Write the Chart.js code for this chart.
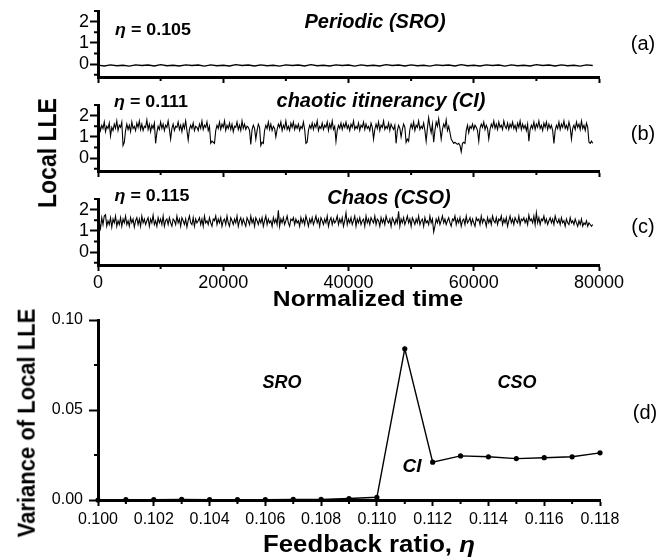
<!DOCTYPE html>
<html lang="en">
<head>
<meta charset="UTF-8">
<title>Local LLE time series and variance vs feedback ratio</title>
<script src="https://cdn.jsdelivr.net/npm/chart.js@4.4.1/dist/chart.umd.min.js"></script>
<style>
  body { margin: 0; background: #fff; }
  #wrap { position: relative; width: 670px; height: 558px; overflow: hidden;
          font-family: Arial, "Liberation Sans", Helvetica, sans-serif; color: #000; }
  canvas { position: absolute; left: 0; }
  .lbl { position: absolute; white-space: nowrap; line-height: 1;
         transform: translate(-50%, -50%); }
  .b { font-weight: bold; }
  .bi { font-weight: bold; font-style: italic; }
  .wide { transform: translate(-50%, -50%) scaleX(1.12); }
  .eta { transform: translate(-50%, -50%) scaleX(1.05); }
  .rot { transform: translate(-50%, -50%) scaleX(1.1) rotate(-90deg); }
</style>
</head>
<body>
<div id="wrap">
  <canvas id="panelA" width="670" height="90" style="top:0"></canvas>
  <canvas id="panelB" width="670" height="90" style="top:94px"></canvas>
  <canvas id="panelC" width="670" height="112" style="top:188px"></canvas>
  <canvas id="panelD" width="670" height="258" style="top:300px"></canvas>

  <div class="lbl b eta" style="left:153px;top:29px;font-size:17px"><i>η</i> = 0.105</div>
  <div class="lbl bi" style="left:375px;top:21px;font-size:20px">Periodic (SRO)</div>
  <div class="lbl" style="left:643px;top:43px;font-size:20px">(a)</div>

  <div class="lbl b eta" style="left:151px;top:101px;font-size:17px"><i>η</i> = 0.111</div>
  <div class="lbl bi" style="left:381px;top:100px;font-size:20px">chaotic itinerancy (CI)</div>
  <div class="lbl" style="left:643px;top:133px;font-size:20px">(b)</div>

  <div class="lbl b eta" style="left:152px;top:195px;font-size:17px"><i>η</i> = 0.115</div>
  <div class="lbl bi" style="left:389px;top:197px;font-size:20px">Chaos (CSO)</div>
  <div class="lbl" style="left:643px;top:226px;font-size:20px">(c)</div>

  <div class="lbl b wide" style="left:368px;top:299px;font-size:22px">Normalized time</div>
  <div class="lbl b rot" style="left:48px;top:153px;font-size:23px">Local LLE</div>

  <div class="lbl bi" style="left:282px;top:382px;font-size:18px">SRO</div>
  <div class="lbl bi" style="left:517px;top:382px;font-size:18px">CSO</div>
  <div class="lbl bi" style="left:412px;top:465px;font-size:19px">CI</div>
  <div class="lbl" style="left:645px;top:412px;font-size:20px">(d)</div>
  <div class="lbl b rot" style="left:27px;top:423px;font-size:22px">Variance of Local LLE</div>
  <div class="lbl b wide" style="left:369px;top:544px;font-size:23px">Feedback ratio, <i>η</i></div>
</div>

<script>
// sampling interval (normalized time) of the stored traces
const periodicStep = 1000;
const timeStep = 200;

// local LLE, eta = 0.105 (periodic, SRO)
const lleSRO = [
  -0.04, -0.08, -0.03, -0.07, -0.05, -0.09, -0.03, -0.06, -0.04, -0.08,
  -0.02, -0.07, -0.05, -0.08, -0.03, -0.06, -0.04, -0.09, -0.03, -0.07,
  -0.05, -0.08, -0.02, -0.06, -0.04, -0.08, -0.03, -0.07, -0.05, -0.09,
  -0.03, -0.06, -0.04, -0.08, -0.02, -0.07, -0.05, -0.08, -0.03, -0.06,
  -0.04, -0.09, -0.03, -0.07, -0.05, -0.08, -0.02, -0.06, -0.04, -0.08,
  -0.03, -0.07, -0.05, -0.09, -0.03, -0.06, -0.04, -0.08, -0.02, -0.07,
  -0.05, -0.08, -0.03, -0.06, -0.04, -0.09, -0.03, -0.07, -0.05, -0.08,
  -0.02, -0.06, -0.04, -0.08, -0.03, -0.07, -0.05, -0.09, -0.03, -0.06
];

// local LLE, eta = 0.111 (chaotic itinerancy)
const lleCI = [
  1.35, 1.60, 1.30, 1.55, 1.40, 1.70, 1.25, 1.50, 1.40, 1.65, 1.05, 1.45, 1.30, 1.60, 1.40, 1.75, 1.30, 1.55, 1.45, 1.70,
  0.60, 0.75, 1.30, 1.60, 1.35, 1.55, 1.25, 1.70, 1.40, 1.50, 1.30, 1.65, 1.45, 1.75, 1.35, 1.60, 1.30, 1.50, 1.45, 1.80,
  1.35, 1.60, 1.25, 1.55, 1.40, 1.65, 0.70, 1.20, 1.50, 1.35, 1.70, 1.40, 1.60, 1.30, 1.55, 1.45, 1.75, 1.35, 0.90, 1.40,
  1.60, 1.30, 1.50, 1.45, 1.70, 1.35, 1.55, 1.25, 1.60, 1.40, 1.75, 1.30, 0.85, 1.35, 1.55, 1.40, 1.65, 1.30, 1.50, 1.45,
  1.30, 1.60, 1.40, 1.75, 1.35, 1.55, 1.45, 1.70, 1.30, 1.50, 0.70, 0.80, 0.75, 0.70, 1.30, 1.55, 1.40, 1.70, 1.35, 1.60,
  1.45, 1.75, 1.30, 1.55, 1.40, 1.65, 1.35, 1.60, 1.25, 1.50, 1.45, 1.70, 1.35, 1.55, 1.30, 1.75, 1.40, 1.60, 1.35, 1.50,
  1.45, 1.30, 0.65, 1.35, 1.55, 1.40, 0.90, 1.30, 1.60, 1.45, 0.60, 0.75, 0.70, 1.30, 1.55, 1.40, 1.70, 1.35, 1.60, 1.30,
  1.50, 1.40, 1.00, 1.35, 1.60, 1.45, 1.70, 1.30, 1.55, 1.40, 1.75, 1.35, 1.50, 1.30, 1.65, 1.45, 1.70, 1.35, 1.55, 1.40,
  1.60, 1.30, 1.50, 1.40, 1.70, 1.35, 0.70, 0.75, 1.30, 1.55, 1.40, 1.65, 1.35, 1.60, 1.45, 1.75, 1.30, 1.50, 1.40, 1.65,
  1.35, 1.55, 1.45, 1.70, 1.30, 1.60, 1.40, 1.75, 1.35, 1.50, 0.80, 1.30, 1.55, 1.40, 1.65, 1.35, 1.60, 1.45, 1.70, 1.40,
  1.55, 1.30, 1.60, 1.45, 1.75, 1.35, 1.50, 1.40, 1.65, 1.30, 1.55, 1.45, 1.70, 1.35, 1.60, 1.40, 1.50, 1.30, 1.65, 1.45,
  0.90, 1.35, 1.60, 1.40, 1.70, 1.30, 1.55, 1.45, 1.75, 1.35, 1.50, 1.40, 1.65, 1.30, 1.60, 1.45, 1.35, 1.55, 0.70, 1.30,
  1.55, 1.40, 1.00, 1.35, 1.60, 1.45, 0.75, 0.90, 0.80, 1.35, 1.60, 1.40, 1.70, 1.30, 1.55, 1.45, 1.75, 1.35, 1.50, 1.40,
  1.65, 1.30, 0.80, 1.40, 1.90, 1.50, 1.20, 1.60, 0.75, 1.30, 1.70, 1.50, 1.85, 1.40, 0.90, 1.35, 1.60, 1.45, 1.80, 1.30,
  1.50, 1.20, 0.90, 0.80, 0.70, 0.75, 0.70, 0.65, 0.70, 0.60, 0.30, 0.70, 0.75, 0.70, 1.30, 1.55, 1.20, 1.50, 1.40, 1.60,
  1.35, 1.55, 1.45, 1.30, 0.80, 1.40, 1.60, 1.45, 1.70, 1.35, 1.55, 1.40, 0.90, 1.35, 1.60, 1.45, 1.75, 1.40, 1.60, 1.35,
  1.70, 1.45, 1.55, 1.35, 1.75, 1.50, 1.40, 1.65, 1.35, 1.60, 1.45, 1.70, 1.40, 1.55, 1.30, 1.65, 1.45, 1.75, 1.35, 1.60,
  1.40, 1.55, 1.30, 1.60, 0.80, 1.35, 1.55, 1.40, 1.70, 1.35, 1.60, 1.45, 1.75, 1.40, 1.55, 1.30, 1.65, 1.45, 1.70, 1.35,
  1.60, 1.40, 1.55, 1.30, 0.70, 1.30, 1.55, 1.40, 1.70, 1.35, 1.60, 1.45, 1.75, 1.40, 1.55, 1.35, 1.70, 1.45, 0.90, 1.40,
  1.55, 1.35, 1.70, 1.45, 1.60, 1.35, 1.75, 1.40, 1.55, 1.30, 1.65, 1.45, 0.75, 0.70, 0.80, 0.70
];

// local LLE, eta = 0.115 (chaos, CSO)
const lleCSO = [
  1.56, 1.38, 1.12, 1.62, 1.30, 1.70, 1.76, 1.22, 1.48, 1.30, 1.62, 1.18, 1.56, 1.38, 1.70, 1.22, 1.48, 1.30, 1.62, 1.22,
  1.56, 1.38, 1.70, 1.30, 1.48, 1.22, 1.62, 1.38, 1.56, 1.18, 1.48, 1.62, 1.30, 1.56, 1.22, 1.70, 1.38, 1.56, 1.30, 1.48,
  1.62, 1.22, 1.56, 1.38, 1.74, 1.30, 1.48, 1.22, 1.62, 1.38, 1.56, 1.30, 1.70, 1.22, 1.48, 1.56, 1.30, 1.62, 1.38, 1.22,
  1.56, 1.48, 1.30, 1.70, 1.38, 1.56, 1.22, 1.62, 1.48, 1.30, 1.56, 1.18, 1.48, 1.70, 1.38, 1.30, 1.62, 1.22, 1.56, 1.38,
  1.48, 1.62, 1.30, 1.56, 1.22, 1.70, 1.38, 1.48, 1.30, 1.62, 1.38, 1.22, 1.56, 1.48, 1.70, 1.30, 1.56, 1.38, 1.62, 1.22,
  1.48, 1.56, 1.30, 1.70, 1.38, 1.22, 1.62, 1.48, 1.30, 1.56, 1.38, 1.70, 1.22, 1.48, 1.62, 1.30, 1.56, 1.38, 1.22, 1.62,
  1.48, 1.30, 1.70, 1.38, 1.56, 1.22, 1.62, 1.48, 1.30, 1.56, 1.38, 1.62, 1.22, 1.48, 1.70, 1.30, 1.56, 1.38, 1.48, 1.22,
  1.62, 1.38, 1.56, 1.30, 1.97, 1.22, 1.56, 1.38, 1.62, 1.30, 1.48, 1.70, 1.38, 1.22, 1.56, 1.48, 1.62, 1.30, 1.56, 1.38,
  1.48, 1.22, 1.62, 1.38, 1.56, 1.30, 1.70, 1.48, 1.22, 1.56, 1.38, 1.62, 1.30, 1.48, 1.70, 1.38, 1.56, 1.22, 1.62, 1.48,
  1.30, 1.56, 1.38, 1.70, 1.22, 1.48, 1.62, 1.30, 1.56, 1.38, 1.48, 1.70, 1.30, 1.56, 1.38, 1.62, 1.22, 1.48, 1.85, 1.30,
  1.56, 1.38, 1.62, 1.30, 1.48, 1.70, 1.22, 1.56, 1.38, 1.62, 1.30, 1.48, 1.56, 1.22, 1.70, 1.38, 1.56, 1.30, 1.62, 1.48,
  1.38, 1.70, 1.30, 1.56, 1.48, 1.22, 1.62, 1.38, 1.56, 1.30, 1.70, 1.48, 1.38, 1.56, 1.22, 1.62, 1.48, 1.30, 1.56, 1.38,
  1.92, 1.22, 1.56, 1.38, 1.62, 1.30, 1.48, 1.70, 1.38, 1.56, 1.22, 1.62, 1.48, 1.30, 1.56, 1.38, 1.70, 1.30, 1.48, 1.56,
  1.22, 1.62, 1.38, 1.48, 1.30, 1.70, 1.38, 1.56, 0.95, 1.22, 1.56, 1.38, 1.62, 1.30, 1.48, 1.70, 1.38, 1.56, 1.30, 1.48,
  1.62, 1.38, 1.22, 1.56, 1.48, 1.70, 1.30, 1.56, 1.38, 1.62, 1.22, 1.48, 1.56, 1.30, 1.70, 1.38, 1.48, 1.62, 1.30, 1.56,
  1.38, 1.22, 1.62, 1.48, 1.56, 1.30, 1.70, 1.38, 1.56, 1.48, 1.22, 1.62, 1.38, 1.56, 1.30, 1.70, 1.48, 1.38, 1.62, 1.30,
  1.56, 1.48, 1.70, 1.30, 1.56, 1.38, 1.62, 1.22, 1.48, 1.70, 1.38, 1.56, 1.30, 1.62, 1.48, 1.38, 1.70, 1.30, 1.56, 1.48,
  1.62, 1.38, 1.56, 1.30, 1.74, 1.48, 1.56, 1.38, 1.70, 1.30, 1.85, 1.38, 1.62, 1.30, 1.56, 1.48, 1.70, 1.38, 1.56, 1.30,
  1.48, 1.62, 1.38, 1.56, 1.30, 1.70, 1.48, 1.38, 1.56, 1.30, 1.62, 1.38, 1.48, 1.22, 1.56, 1.38, 1.30, 1.62, 1.38, 1.48,
  1.30, 1.56, 1.38, 1.22, 1.48, 1.30, 1.56, 1.22, 1.38, 1.30, 1.48, 1.22, 1.38, 1.30, 1.22, 1.30
];

const timeTicks = [0, 20000, 40000, 60000, 80000];
const timeMinorTicks = [10000, 30000, 50000, 70000];
const lleTicks = [0, 1, 2];
const lleMinorTicks = [-0.5, 0.5, 1.5, 2.5];

// variance of local LLE against feedback ratio
const etaValues = [0.100, 0.101, 0.102, 0.103, 0.104, 0.105, 0.106, 0.107, 0.108, 0.109,
                   0.110, 0.111, 0.112, 0.113, 0.114, 0.115, 0.116, 0.117, 0.118];
const varianceValues = [0.0000, 0.0002, 0.0002, 0.0003, 0.0002, 0.0002, 0.0002, 0.0003, 0.0003, 0.0008,
                        0.0015, 0.0840, 0.0210, 0.0245, 0.0240, 0.0230, 0.0235, 0.0240, 0.0262];
const etaTicks = [0.100, 0.102, 0.104, 0.106, 0.108, 0.110, 0.112, 0.114, 0.116, 0.118];
const etaMinorTicks = [0.101, 0.103, 0.105, 0.107, 0.109, 0.111, 0.113, 0.115, 0.117];
const varianceTicks = [0, 0.05, 0.10];
const varianceMinorTicks = [0.025, 0.075];

Chart.defaults.font.family = "Arial, 'Liberation Sans', Helvetica, sans-serif";
Chart.defaults.color = '#000';

// short unlabeled ticks between the labeled ones
const minorTickPlugin = {
  id: 'minorTicks',
  afterDraw(chart, args, opts) {
    const ctx = chart.ctx;
    const xs = chart.scales.x, ys = chart.scales.y;
    ctx.save();
    ctx.strokeStyle = '#000';
    ctx.lineWidth = 2;
    ctx.beginPath();
    (opts.x || []).forEach(v => {
      const px = xs.getPixelForValue(v);
      ctx.moveTo(px, xs.top);
      ctx.lineTo(px, xs.top + opts.len);
    });
    (opts.y || []).forEach(v => {
      const py = ys.getPixelForValue(v);
      ctx.moveTo(ys.right, py);
      ctx.lineTo(ys.right - opts.len, py);
    });
    ctx.stroke();
    ctx.restore();
  }
};

// pin axis box sizes so every panel shares the same plot edges
function fixBox(size) {
  return s => {
    if (s.isHorizontal()) s.height = size; else s.width = size;
    s.paddingTop = s.paddingBottom = s.paddingLeft = s.paddingRight = 0;
  };
}
function setTicks(list) {
  return s => { s.ticks = list.map(v => ({ value: v })); };
}

function axisStyle(tickLen) {
  return {
    grid: { drawOnChartArea: false, drawTicks: true, tickLength: tickLen, tickWidth: 2, tickColor: '#000' },
    border: { display: true, color: '#000', width: 3 }
  };
}

function timePanel(id, step, values, showLabels, height, lineWidth) {
  const points = values.map((v, i) => ({ x: i * step, y: v }));
  return new Chart(document.getElementById(id), {
    type: 'line',
    data: { datasets: [{ data: points, borderColor: '#000', borderWidth: lineWidth, pointRadius: 0, tension: 0 }] },
    options: {
      responsive: false,
      animation: false,
      devicePixelRatio: 1,
      layout: { padding: { top: 11, right: 71, left: 0, bottom: 0 } },
      plugins: {
        legend: { display: false },
        tooltip: { enabled: false },
        minorTicks: { x: timeMinorTicks, y: lleMinorTicks, len: 4 }
      },
      scales: {
        x: Object.assign({
          type: 'linear', min: 0, max: 80000,
          afterBuildTicks: setTicks(timeTicks),
          afterFit: fixBox(height - 77),
          ticks: { autoSkip: false, maxRotation: 0, minRotation: 0, padding: 1, font: { size: 18 },
                   callback: v => showLabels ? String(v) : '' }
        }, axisStyle(6)),
        y: Object.assign({
          type: 'linear', min: -0.6, max: 2.5,
          afterBuildTicks: setTicks(lleTicks),
          afterFit: fixBox(98),
          ticks: { padding: 1, font: { size: 18 }, callback: v => String(v) }
        }, axisStyle(8))
      }
    },
    plugins: [minorTickPlugin]
  });
}

timePanel('panelA', periodicStep, lleSRO, false, 90, 1.4);
timePanel('panelB', timeStep, lleCI, false, 90, 1.1);
timePanel('panelC', timeStep, lleCSO, true, 112, 1.1);

new Chart(document.getElementById('panelD'), {
  type: 'line',
  data: {
    datasets: [{
      data: etaValues.map((e, i) => ({ x: e, y: varianceValues[i] })),
      borderColor: '#000', borderWidth: 1.4, tension: 0,
      pointRadius: 2.6, pointBackgroundColor: '#000', pointBorderWidth: 0,
      clip: false
    }]
  },
  options: {
    responsive: false,
    animation: false,
    devicePixelRatio: 1,
    layout: { padding: { top: 20, right: 70, left: 0, bottom: 0 } },
    plugins: {
      legend: { display: false },
      tooltip: { enabled: false },
      minorTicks: { x: etaMinorTicks, y: varianceMinorTicks, len: 4 }
    },
    scales: {
      x: Object.assign({
        type: 'linear', min: 0.1, max: 0.118,
        afterBuildTicks: setTicks(etaTicks),
        afterFit: fixBox(58),
        ticks: { autoSkip: false, maxRotation: 0, minRotation: 0, padding: 4, font: { size: 16 },
                 callback: v => v.toFixed(3) }
      }, axisStyle(6)),
      y: Object.assign({
        type: 'linear', min: 0, max: 0.1,
        afterBuildTicks: setTicks(varianceTicks),
        afterFit: fixBox(98),
        ticks: { padding: 6, font: { size: 16 }, callback: v => v.toFixed(2) }
      }, axisStyle(9))
    }
  },
  plugins: [minorTickPlugin]
});
</script>
</body>
</html>
